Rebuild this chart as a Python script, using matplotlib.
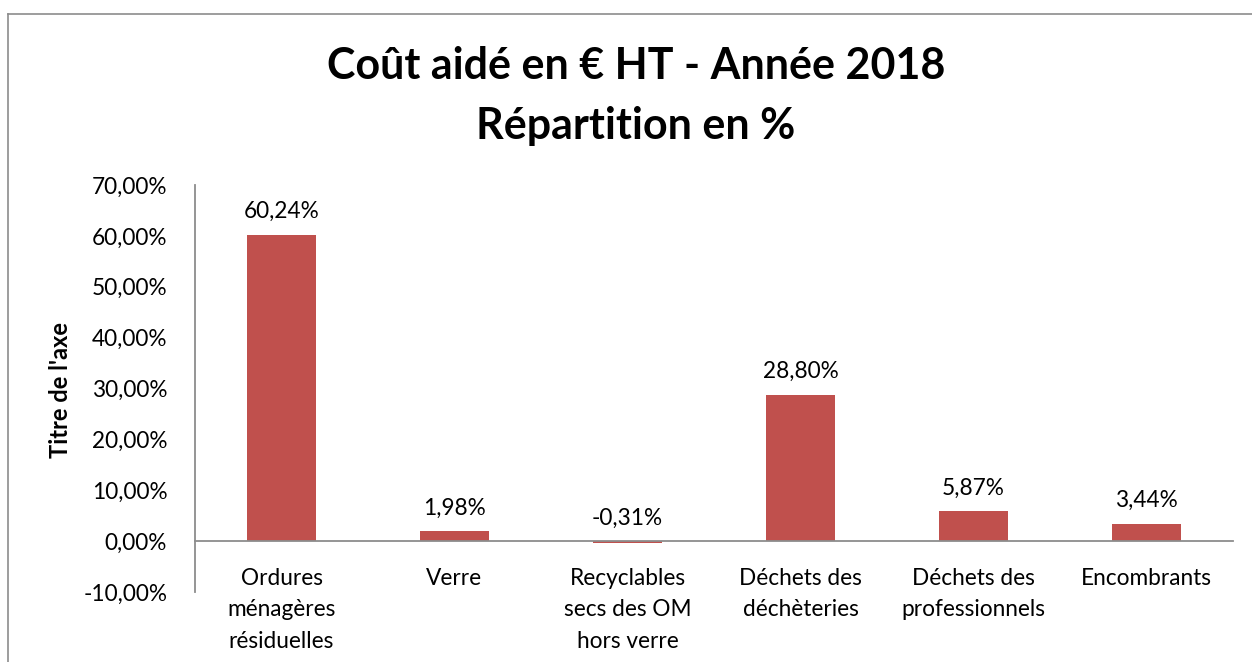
import matplotlib.pyplot as plt
from matplotlib.lines import Line2D

categories = ["Ordures\nménagères\nrésiduelles", "Verre",
              "Recyclables\nsecs des OM\nhors verre", "Déchets des\ndéchèteries",
              "Déchets des\nprofessionnels", "Encombrants"]
values = [60.24, 1.98, -0.31, 28.80, 5.87, 3.44]
yticks = [-10, 0, 10, 20, 30, 40, 50, 60, 70]

plt.rcParams['font.family'] = ['Lato', 'DejaVu Sans']

W, H = 1252, 662
fig = plt.figure(figsize=(W / 100, H / 100), dpi=100)

# chart frame (Excel style), cropped right/bottom
fig.add_artist(Line2D([8 / W, 1], [1 - 13.5 / H, 1 - 13.5 / H], color='#8c8c8c', lw=1.2))
fig.add_artist(Line2D([8 / W, 8 / W], [0, 1 - 13.5 / H], color='#8c8c8c', lw=1.2))

ax = fig.add_axes([195 / W, 1 - 592 / H, (1233 - 195) / W, (592 - 185) / H])
for s in ['top', 'right']:
    ax.spines[s].set_visible(False)
ax.spines['bottom'].set_position(('data', 0))

x = list(range(len(categories)))
ax.bar(x, values, width=0.4, color='#C0504D')

ax.set_xlim(-0.5, len(categories) - 0.5)
ax.set_ylim(-10, 70)
ax.set_yticks(yticks)
ax.set_yticklabels([f"{v:.2f}%".replace('.', ',') for v in yticks], fontsize=16.3)
ax.set_xticks(x)
ax.set_xticklabels(categories, fontsize=16.3, linespacing=1.63, va='top')

ax.spines['bottom'].set_color('#8c8c8c')
ax.spines['left'].set_color('#8c8c8c')
ax.spines['bottom'].set_linewidth(1.3)
ax.spines['left'].set_linewidth(1.3)
ax.tick_params(axis='y', length=0, pad=20)
ax.tick_params(axis='x', length=0, pad=19)

for xi, v in zip(x, values):
    ax.annotate(f"{v:.2f}%".replace('.', ','), (xi, max(v, 0)), xytext=(0, 9),
                textcoords='offset points', ha='center', va='bottom', fontsize=16.3)

ax.set_ylabel("Titre de l'axe", fontsize=17, fontweight='bold')
ax.yaxis.set_label_coords(-123 / (1233 - 195), (592 - 390) / (592 - 185))

fig.text(636 / W, 1 - 96 / H, "Coût aidé en € HT - Année 2018\nRépartition en %",
         ha='center', va='center', fontsize=31, fontweight='bold', linespacing=1.6)

fig.savefig('out.png', dpi=100)
